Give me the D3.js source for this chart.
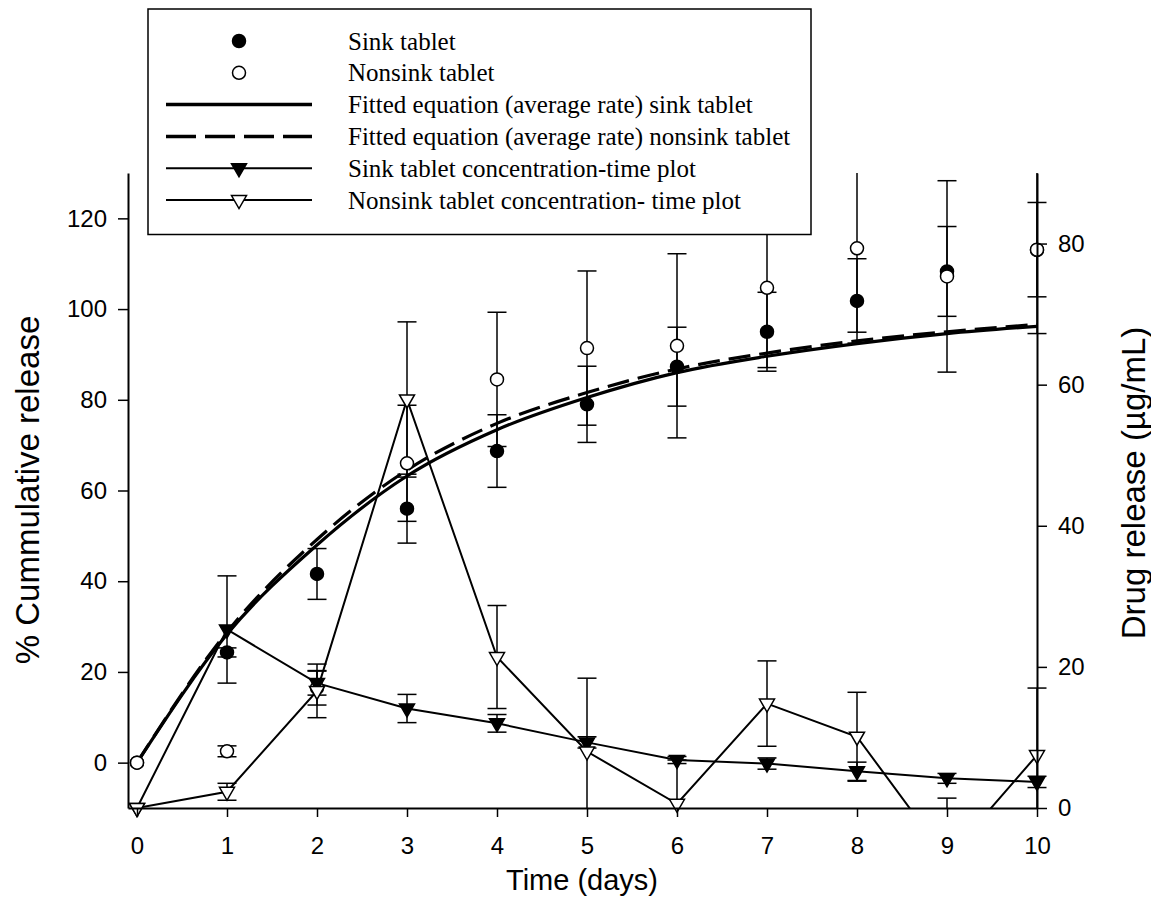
<!DOCTYPE html>
<html>
<head>
<meta charset="utf-8">
<script src="https://cdn.jsdelivr.net/npm/d3@7"></script>
<style>
  body { margin: 0; background: #fff; }
  svg { display: block; }
</style>
</head>
<body>
<svg id="chart"></svg>
<script>
const width = 1151;
const height = 918;

// values
const days = [0, 1, 2, 3, 4, 5, 6, 7, 8, 9, 10];
const sinkRelease       = [0, 24.3, 41.6, 56.0, 68.7, 79.0, 87.3, 95.0, 101.8, 108.3, 113.0];
const sinkReleaseErr    = [0, 1.0, 5.6, 7.6, 8.0, 8.4, 8.7, 8.7, 9.3, 9.9, 18.4];
const nonsinkRelease    = [0, 2.5, 16.5, 66.0, 84.5, 91.4, 91.9, 104.7, 113.4, 107.2, 113.1];
const nonsinkReleaseErr = [0, 1.2, 3.8, 12.8, 14.8, 17.0, 20.3, 17.6, 18.5, 21.1, 10.4];
const sinkFit    = [0, 28.3, 48.0, 63.2, 73.4, 80.5, 86.0, 89.6, 92.4, 94.6, 96.2];
const nonsinkFit = [0, 28.8, 49.2, 64.5, 74.8, 81.6, 86.8, 90.3, 93.0, 95.0, 96.6];
const sinkConc       = [0, 25.3, 17.7, 14.1, 12.0, 9.3, 6.8, 6.3, 5.2, 4.2, 3.7];
const sinkConcErr    = [0, 7.6, 1.7, 2.0, 1.25, 0.8, 0.5, 0.8, 1.3, 0.7, 0.8];
const nonsinkConc    = [0, 2.3, 16.6, 57.9, 21.4, 8.0, 0.6, 14.8, 10.1, -7.2, 7.5];
const nonsinkConcErr = [0, 1.2, 3.8, 11.0, 7.3, 10.4, 6.2, 6.05, 6.3, 8.6, 9.5];

const leftTicks = [0, 20, 40, 60, 80, 100, 120];
const rightTicks = [0, 20, 40, 60, 80];
const legendLabels = [
    'Sink tablet',
    'Nonsink tablet',
    'Fitted equation (average rate) sink tablet',
    'Fitted equation (average rate) nonsink tablet',
    'Sink tablet concentration-time plot',
    'Nonsink tablet concentration- time plot'
];

const svg = d3.select('#chart').attr('width', width).attr('height', height);

const x = d3.scaleLinear().domain([-0.1, 10]).range([128, 1037]);
const yLeft = d3.scaleLinear().domain([-10, 130]).range([808, 173]);
const yRight = d3.scaleLinear().domain([0, 90]).range([808, 173]);

const triPath = 'M-7.5,-4.5L7.5,-4.5L0,8.5Z';
const capW = 9.5;

svg.append('defs').append('clipPath').attr('id', 'plot-clip')
    .append('rect')
    .attr('x', 0).attr('y', 173)
    .attr('width', width).attr('height', 808 - 173);

const plot = svg.append('g').attr('clip-path', 'url(#plot-clip)');

// error bars
function errorBars(vals, errs, y) {
    const rows = days.map((d, i) => ({ d: d, v: vals[i], e: errs[i] })).filter(r => r.e > 0);
    const g = plot.append('g').attr('stroke', '#000').attr('stroke-width', 1.5);
    g.selectAll('line.bar').data(rows).enter().append('line')
        .attr('x1', r => x(r.d)).attr('x2', r => x(r.d))
        .attr('y1', r => y(r.v - r.e)).attr('y2', r => y(r.v + r.e));
    [-1, 1].forEach(s => {
        g.selectAll('line.cap' + s).data(rows).enter().append('line')
            .attr('x1', r => x(r.d) - capW).attr('x2', r => x(r.d) + capW)
            .attr('y1', r => y(r.v + s * r.e)).attr('y2', r => y(r.v + s * r.e));
    });
}
errorBars(sinkRelease, sinkReleaseErr, yLeft);
errorBars(nonsinkRelease, nonsinkReleaseErr, yLeft);
errorBars(sinkConc, sinkConcErr, yRight);
errorBars(nonsinkConc, nonsinkConcErr, yRight);

// fitted curves
const fitLine = d3.line().x((v, i) => x(days[i])).y(v => yLeft(v)).curve(d3.curveMonotoneX);
plot.append('path').datum(sinkFit)
    .attr('d', fitLine).attr('fill', 'none').attr('stroke', '#000').attr('stroke-width', 3.2);
plot.append('path').datum(nonsinkFit)
    .attr('d', fitLine).attr('fill', 'none').attr('stroke', '#000').attr('stroke-width', 3.2)
    .attr('stroke-dasharray', '22,9');

// concentration-time lines
const concLine = d3.line().x((v, i) => x(days[i])).y(v => yRight(v));
[sinkConc, nonsinkConc].forEach(vals => {
    plot.append('path').datum(vals)
        .attr('d', concLine).attr('fill', 'none').attr('stroke', '#000').attr('stroke-width', 2);
});

// markers
function triangles(vals, fill) {
    const rows = days.map((d, i) => ({ d: d, v: vals[i] })).filter(r => r.v >= 0);
    svg.append('g').selectAll('path').data(rows).enter().append('path')
        .attr('d', triPath)
        .attr('transform', r => `translate(${x(r.d)},${yRight(r.v)})`)
        .attr('fill', fill).attr('stroke', '#000').attr('stroke-width', 1.5);
}
function circles(vals, fill) {
    svg.append('g').selectAll('circle').data(days).enter().append('circle')
        .attr('cx', d => x(d)).attr('cy', (d, i) => yLeft(vals[i])).attr('r', 6.5)
        .attr('fill', fill).attr('stroke', '#000').attr('stroke-width', 1.5);
}
circles(sinkRelease, '#000');
circles(nonsinkRelease, '#fff');
triangles(sinkConc, '#000');
triangles(nonsinkConc, '#fff');

// axes
function styleAxis(g) {
    g.select('.domain').attr('stroke-width', 2);
    g.selectAll('.tick line').attr('stroke-width', 1.5);
    g.selectAll('.tick text')
        .attr('font-family', '"Liberation Sans", Arial, sans-serif')
        .attr('font-size', 24).attr('fill', '#000');
}
svg.append('g').attr('transform', 'translate(128,0)')
    .call(d3.axisLeft(yLeft).tickValues(leftTicks).tickSize(10).tickSizeOuter(0).tickPadding(11))
    .call(styleAxis);
svg.append('g').attr('transform', 'translate(0,808)')
    .call(d3.axisBottom(x).tickValues(days).tickSize(9).tickSizeOuter(0).tickPadding(20))
    .call(styleAxis);
svg.append('g').attr('transform', `translate(${x(10)},0)`)
    .call(d3.axisRight(yRight).tickValues(rightTicks).tickSize(10).tickSizeOuter(0).tickPadding(11))
    .call(styleAxis);

// axis titles
const titleFont = '"Liberation Sans", Arial, sans-serif';
svg.append('text').attr('x', 582).attr('y', 890)
    .attr('text-anchor', 'middle').attr('font-family', titleFont).attr('font-size', 29)
    .text('Time (days)');
svg.append('text').attr('transform', 'translate(39,490) rotate(-90)')
    .attr('text-anchor', 'middle').attr('font-family', titleFont).attr('font-size', 33)
    .text('% Cummulative release');
svg.append('text').attr('transform', 'translate(1145,483) rotate(-90)')
    .attr('text-anchor', 'middle').attr('font-family', titleFont).attr('font-size', 33)
    .text('Drug release (\u00b5g/mL)');

// legend
const legend = svg.append('g');
legend.append('rect')
    .attr('x', 148).attr('y', 9).attr('width', 663).attr('height', 225.5)
    .attr('fill', '#fff').attr('stroke', '#000').attr('stroke-width', 1.5);
const rowY = d3.scaleLinear().domain([0, 5]).range([41, 200]);
const symX = 239, lineX1 = 166, lineX2 = 312;
legendLabels.forEach((label, i) => {
    const yy = rowY(i);
    const row = legend.append('g');
    if (i === 2 || i === 3) {
        row.append('line').attr('x1', lineX1).attr('x2', lineX2).attr('y1', yy).attr('y2', yy)
            .attr('stroke', '#000').attr('stroke-width', 3.5)
            .attr('stroke-dasharray', i === 3 ? '30,9' : null);
    }
    if (i === 4 || i === 5) {
        row.append('line').attr('x1', lineX1).attr('x2', lineX2).attr('y1', yy).attr('y2', yy)
            .attr('stroke', '#000').attr('stroke-width', 2);
        row.append('path').attr('d', triPath).attr('transform', `translate(${symX},${yy})`)
            .attr('fill', i === 4 ? '#000' : '#fff').attr('stroke', '#000').attr('stroke-width', 1.5);
    }
    if (i === 0 || i === 1) {
        row.append('circle').attr('cx', symX).attr('cy', yy).attr('r', 6.5)
            .attr('fill', i === 0 ? '#000' : '#fff').attr('stroke', '#000').attr('stroke-width', 1.5);
    }
    row.append('text').attr('x', 348).attr('y', yy).attr('dy', '0.34em')
        .attr('font-family', '"Liberation Serif", "Times New Roman", serif').attr('font-size', 25)
        .text(label);
});
</script>
</body>
</html>
